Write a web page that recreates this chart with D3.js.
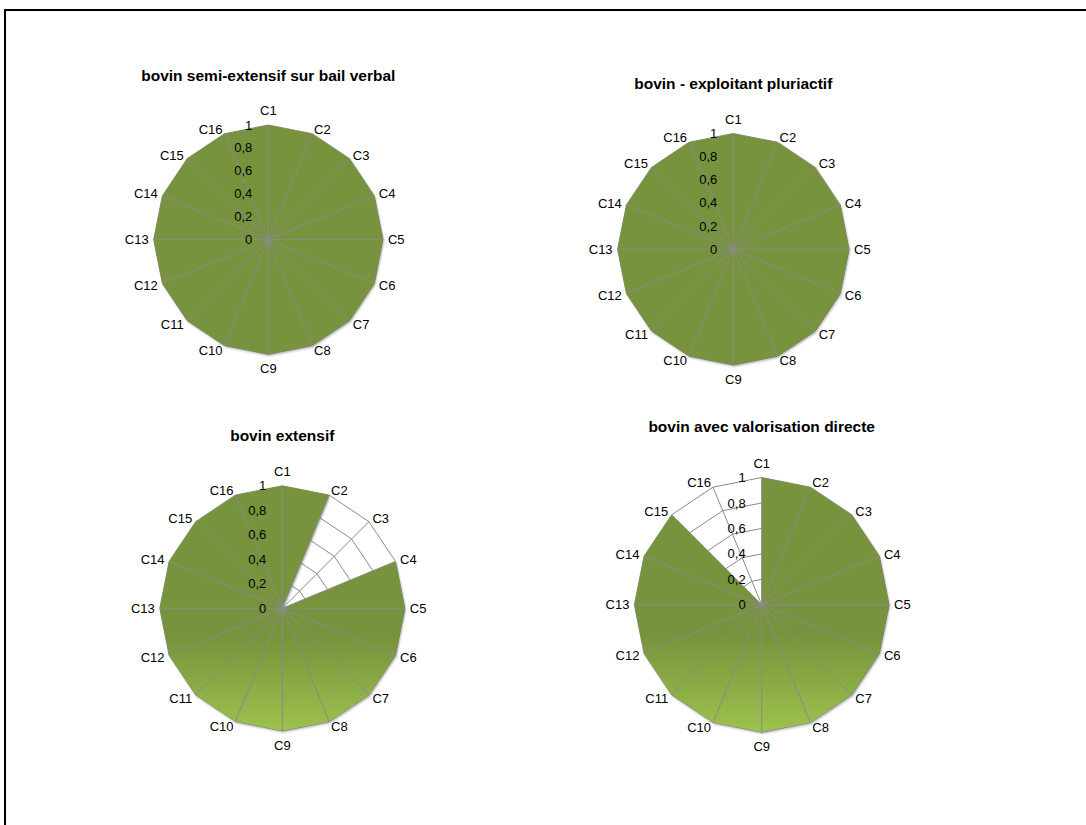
<!DOCTYPE html>
<html>
<head>
<meta charset="utf-8">
<script src="https://cdn.jsdelivr.net/npm/d3@7"></script>
<style>
  html, body { margin: 0; padding: 0; background: #fff; }
  svg { display: block; }
</style>
</head>
<body>
<svg id="chart" width="1086" height="825"></svg>
<script>
// ---- data ----
const categories = ["C1","C2","C3","C4","C5","C6","C7","C8","C9","C10","C11","C12","C13","C14","C15","C16"];
const valsSemiExtensif = [1,1,1,1,1,1,1,1,1,1,1,1,1,1,1,1];
const valsPluriactif   = [1,1,1,1,1,1,1,1,1,1,1,1,1,1,1,1];
const valsExtensif     = [1,1,0,1,1,1,1,1,1,1,1,1,1,1,1,1];
const valsValorisation = [1,1,1,1,1,1,1,1,1,1,1,1,1,1,1,0];
const tickValues = [0, 0.2, 0.4, 0.6, 0.8, 1];
const tickLabels = ["0", "0,2", "0,4", "0,6", "0,8", "1"];
const titles = [
  "bovin semi-extensif sur bail verbal",
  "bovin - exploitant pluriactif",
  "bovin extensif",
  "bovin avec valorisation directe"
];

// ---- layout ----
const panels = [
  {title: titles[0], values: valsSemiExtensif, cx: 268.3, cy: 239.6, r: 114.6, titleY: 80.5, gradient: false},
  {title: titles[1], values: valsPluriactif,   cx: 733.3, cy: 249.2, r: 115.7, titleY: 89,   gradient: false},
  {title: titles[2], values: valsExtensif,     cx: 282.3, cy: 608.3, r: 122.5, titleY: 440.7, gradient: true},
  {title: titles[3], values: valsValorisation, cx: 761.7, cy: 604.8, r: 127.3, titleY: 432.3, gradient: true}
];

const svg = d3.select("#chart");
const FONT = "'Liberation Sans', Arial, sans-serif";
const GREEN = "#77933C";
const GRID = "#8a8a8a";

// frame
svg.append("path")
  .attr("d", "M5,825 L5,10 L1086,10")
  .attr("fill", "none").attr("stroke", "#000").attr("stroke-width", 2);

const defs = svg.append("defs");
const grad = defs.append("linearGradient").attr("id", "greenGrad")
  .attr("x1", 0).attr("y1", 0).attr("x2", 0).attr("y2", 1);
grad.append("stop").attr("offset", "0%").attr("stop-color", GREEN);
grad.append("stop").attr("offset", "62%").attr("stop-color", GREEN);
grad.append("stop").attr("offset", "100%").attr("stop-color", "#9DC24E");

const shadow = defs.append("filter").attr("id", "shadow")
  .attr("x", "-10%").attr("y", "-10%").attr("width", "120%").attr("height", "120%");
shadow.append("feDropShadow").attr("dx", 1).attr("dy", 1.5)
  .attr("stdDeviation", 1.3).attr("flood-color", "#000").attr("flood-opacity", 0.35);

const n = categories.length;
const angle = d3.scaleLinear().domain([0, n]).range([0, 2 * Math.PI]);

panels.forEach(p => {
  const g = svg.append("g").attr("transform", `translate(${p.cx},${p.cy})`);
  const rScale = d3.scaleLinear().domain([0, 1]).range([0, p.r]);

  // title
  svg.append("text")
    .attr("x", p.cx).attr("y", p.titleY)
    .attr("text-anchor", "middle")
    .attr("font-family", FONT).attr("font-weight", "bold").attr("font-size", "15.5px")
    .attr("fill", "#000")
    .text(p.title);

  // grid rings (under fill)
  const ring = d3.lineRadial()
    .angle((d, i) => angle(i))
    .radius(d => rScale(d))
    .curve(d3.curveLinearClosed);
  tickValues.filter(v => v > 0).forEach(v => {
    g.append("path")
      .attr("d", ring(categories.map(() => v)))
      .attr("fill", "none").attr("stroke", GRID).attr("stroke-width", 1);
  });

  // data fill
  const area = d3.lineRadial()
    .angle((d, i) => angle(i))
    .radius(d => rScale(d))
    .curve(d3.curveLinearClosed);
  g.append("path")
    .attr("d", area(p.values))
    .attr("fill", p.gradient ? "url(#greenGrad)" : GREEN)
    .attr("stroke", "none")
    .attr("filter", "url(#shadow)");

  // spokes
  categories.forEach((c, i) => {
    const a = angle(i);
    g.append("line")
      .attr("x1", 0).attr("y1", 0)
      .attr("x2", rScale(1) * Math.sin(a)).attr("y2", -rScale(1) * Math.cos(a))
      .attr("stroke", GRID).attr("stroke-width", 1);
  });
  g.append("circle").attr("r", 2).attr("fill", GRID);

  // category labels
  categories.forEach((c, i) => {
    const a = angle(i);
    const s = Math.sin(a), co = Math.cos(a);
    const rr = rScale(1) + 5;
    let x = rr * s, y = -rr * co, anchor;
    if (Math.abs(s) < 0.01) {
      anchor = "middle";
      y = co > 0 ? -(rScale(1) + 14.5) : (rScale(1) + 14.5);
    } else {
      anchor = s > 0 ? "start" : "end";
    }
    g.append("text")
      .attr("x", x).attr("y", y).attr("dy", "0.35em")
      .attr("text-anchor", anchor)
      .attr("font-family", FONT).attr("font-size", "13px").attr("fill", "#000")
      .text(c);
  });

  // radial tick labels
  tickValues.forEach((v, i) => {
    g.append("text")
      .attr("x", -16).attr("y", -rScale(v)).attr("dy", "0.35em")
      .attr("text-anchor", "end")
      .attr("font-family", FONT).attr("font-size", "13px").attr("fill", "#000")
      .text(tickLabels[i]);
  });
});
</script>
</body>
</html>
